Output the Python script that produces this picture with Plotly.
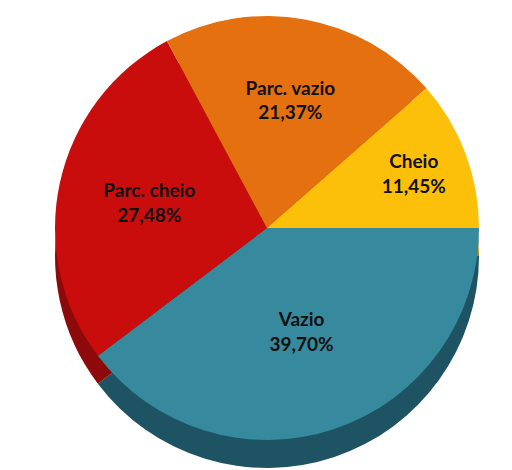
import plotly.graph_objects as go

labels = ["Cheio", "Parc. vazio", "Parc. cheio", "Vazio"]
values = [11.45, 21.37, 27.48, 39.70]
top_colors = ["#FDC00A", "#E4700F", "#C90D0D", "#37899D"]
side_colors = ["#B08500", "#9E4C08", "#8E0909", "#1E5364"]

W, H = 512, 470
cx, cy, R = 259, 220, 212   # pixel centre / radius (from top)
depth = 28

def dom(yc):
    ycb = H - yc
    return dict(x=[(cx - R) / W, (cx + R) / W], y=[(ycb - R) / H, (ycb + R) / H])

# draw clockwise from 3 o'clock in reversed order == counterclockwise from 3 o'clock
lab_r = labels[::-1]
val_r = values[::-1]

fig = go.Figure()
# side (depth) layer
fig.add_trace(go.Pie(
    labels=lab_r, values=val_r, sort=False, direction="clockwise",
    rotation=90, marker=dict(colors=side_colors[::-1]), textinfo="none",
    hoverinfo="skip", domain=dom(cy + depth), showlegend=False,
))
# top surface
fig.add_trace(go.Pie(
    labels=lab_r, values=val_r, sort=False, direction="clockwise",
    rotation=90, marker=dict(colors=top_colors[::-1]),
    texttemplate="<b>%{label}</b><br><b>%{percent:.2%}</b>",
    textposition="inside", insidetextorientation="horizontal",
    textfont=dict(family="Lato, Liberation Sans, sans-serif", size=19, color="#111111"),
    domain=dom(cy), showlegend=False,
))
fig.update_layout(
    width=W, height=H, margin=dict(l=0, r=0, t=0, b=0),
    paper_bgcolor="white", plot_bgcolor="white", separators=",.",
)
fig.write_html("out.html")
